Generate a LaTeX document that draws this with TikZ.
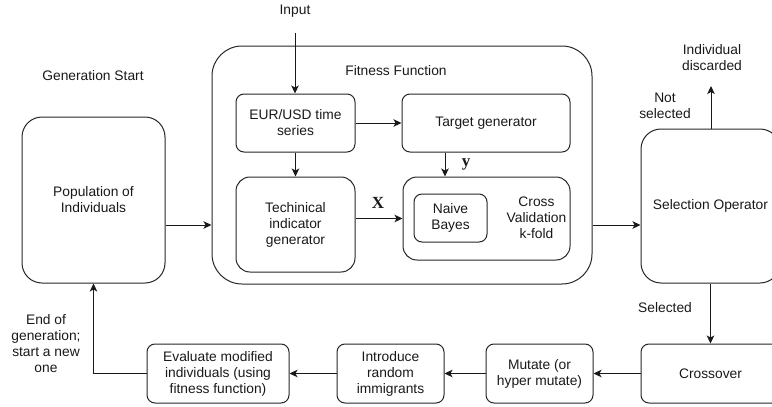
\documentclass[tikz,border=0pt]{standalone}
\usepackage{fontspec}
\setmainfont{Liberation Sans}
\newfontfamily\serifbold{Liberation Serif}
\usetikzlibrary{arrows.meta,calc}
\begin{document}
\begin{tikzpicture}[x=1pt,y=-1pt,
  every node/.style={font=\fontsize{13.8}{16}\selectfont, text=black!90, align=center},
  box/.style={draw=black!85, line width=1pt, rounded corners=8pt, inner sep=0pt},
  arr/.style={draw=black!90, line width=1pt, -{Stealth[length=8pt,width=7.5pt,inset=2pt]}},
  lbl/.style={inner sep=0pt}]
\useasboundingbox (0,0) rectangle (772,407);
\clip (0,0) rectangle (772,407);
% outer containers
\node[box, rounded corners=30pt, minimum width=380pt, minimum height=238pt] (fit) at (402,165) {};
\node[lbl] (fittxt) at (396,71) {Fitness Function};
\node[box, rounded corners=20pt, minimum width=143pt, minimum height=166pt] (pop) at (93.5,200) {Population of\\Individuals};
\node[lbl] (genstart) at (93,76) {Generation Start};
\node[box, rounded corners=20pt, minimum width=139pt, minimum height=154pt] (sel) at (710.5,206) {Selection Operator};
% inner boxes
\node[box, minimum width=119pt, minimum height=58pt] (eur) at (295.5,123) {EUR/USD time\\series};
\node[box, minimum width=168pt, minimum height=58pt] (target) at (486,123) {Target generator};
\node[box, rounded corners=14pt, minimum width=119pt, minimum height=95pt] (tech) at (295.5,224.5) {Techinical\\indicator\\generator};
\node[box, rounded corners=14pt, minimum width=167pt, minimum height=83pt] (cv) at (486.5,218.5) {};
\node[box, minimum width=73pt, minimum height=48pt] (nb) at (450.5,218) {Naive\\Bayes};
\node[lbl] (cvtxt) at (536.5,218) {Cross\\Validation\\k-fold};
% bottom row
\node[box, minimum width=139pt, minimum height=59pt] (cross) at (710.5,373.5) {Crossover};
\node[box, minimum width=107pt, minimum height=59pt] (mut) at (539.5,373.5) {Mutate (or\\hyper mutate)};
\node[box, minimum width=107pt, minimum height=59pt] (intro) at (390.5,373.5) {Introduce\\random\\immigrants};
\node[box, minimum width=142pt, minimum height=59pt] (eval) at (218,373.5) {Evaluate modified\\individuals (using\\fitness function)};
% labels
\node[lbl] (input) at (295,11) {Input};
\node[lbl] (disc) at (712,58) {Individual\\discarded};
\node[lbl] (notsel) at (665,106) {Not\\selected};
\node[lbl] (selected) at (665,308) {Selected};
\node[lbl] (endgen) at (46,344) {End of\\generation;\\start a new\\one};
\node[lbl, font=\serifbold\bfseries\fontsize{17}{18}\selectfont] (xl) at (378,203) {X};
\node[lbl, font=\serifbold\bfseries\fontsize{17}{18}\selectfont] (yl) at (466,164) {y};
% coordinates
\coordinate (inend) at (295,33);
\coordinate (discend) at (711,86);
\coordinate (ya) at (445,0);
\coordinate (midy) at (0,225);
% connectors
\draw[arr] (inend) -- (eur.north -| inend);
\draw[arr] (eur.east) -- (target.west);
\draw[arr] (eur.south) -- (tech.north);
\draw[arr] (target.south -| ya) -- (cv.north -| ya);
\draw[arr] (tech.east |- cv.west) -- (cv.west);
\draw[arr] (pop.east |- midy) -- (fit.west |- midy);
\draw[arr] (fit.east |- midy) -- (sel.west |- midy);
\draw[arr] (sel.north -| discend) -- (discend);
\draw[arr] (sel.south) -- (cross.north);
\draw[arr] (cross.west) -- (mut.east);
\draw[arr] (mut.west) -- (intro.east);
\draw[arr] (intro.west) -- (eval.east);
\draw[arr] (eval.west) -| (pop.south);
\end{tikzpicture}
\end{document}
